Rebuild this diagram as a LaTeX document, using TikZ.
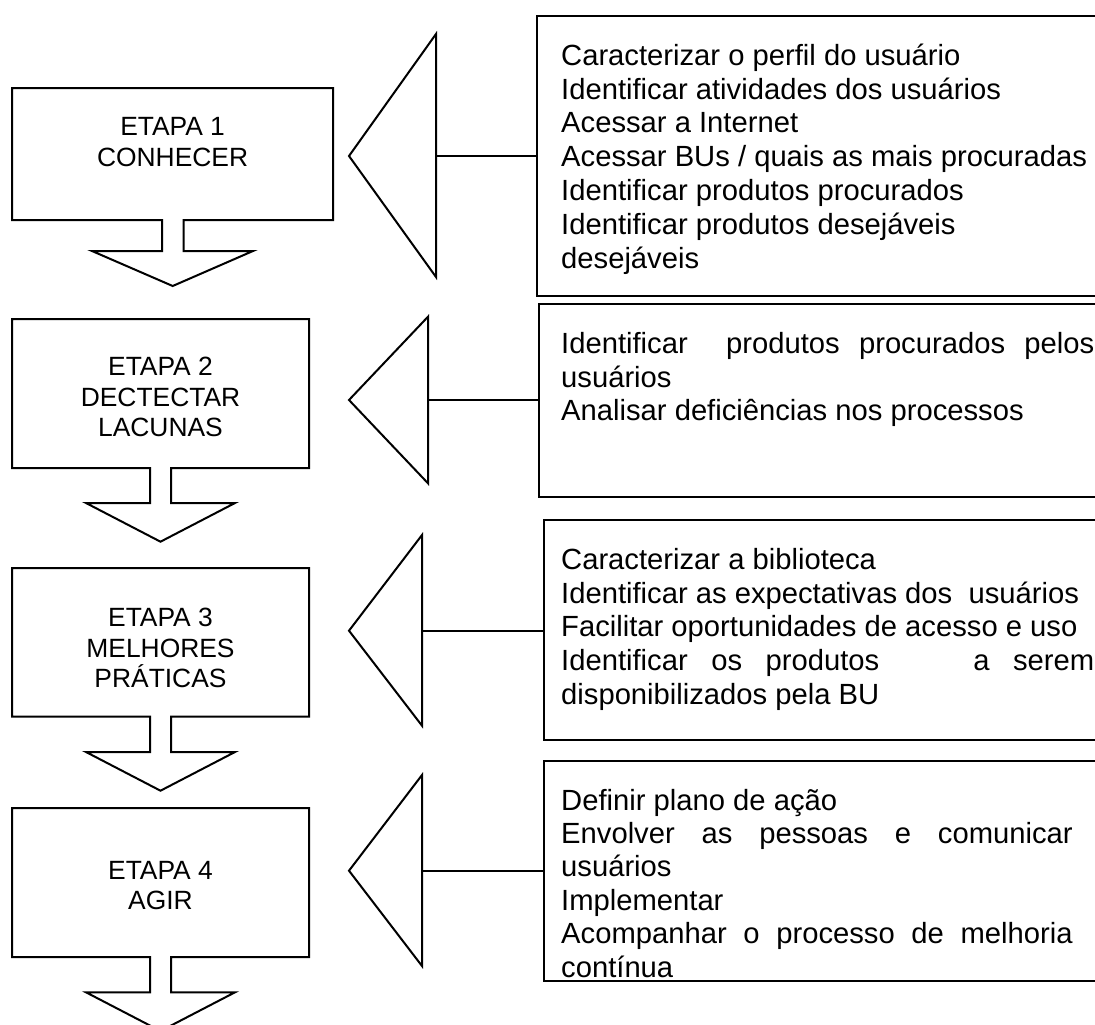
\documentclass[tikz,border=0pt]{standalone}
\usepackage{fontspec}
\setmainfont{Liberation Sans}
\newcommand\ctrln[1]{\hbox to 0pt{\hss#1\hss}}
\newcommand\jline[2]{\hbox to #1{\spaceskip=0.278em plus 1fil\relax #2}}
\begin{document}
\begin{tikzpicture}[x=1pt,y=-1pt,line join=miter,
  lefttxt/.style={inner sep=0pt,anchor=base,font=\fontsize{26.4}{30.5}\selectfont},
  righttxt/.style={inner sep=0pt,anchor=base west,font=\fontsize{29.2}{33.8}\selectfont},
  outline/.style={draw=black,line width=2pt},
  wedge/.style={draw=black,line width=2pt},
  frame/.style={draw=black,line width=2pt},
  link/.style={draw=black,line width=2pt}]
\useasboundingbox (0,0) rectangle (1095,1025);
\clip (0,0) rectangle (1095,1025);

% ---- left column: stage boxes with block arrows
\draw[outline] (12,88) -- (333,88) -- (333,220) -- (183.5,220) -- (183.5,251) -- (253,251)
  -- (172.7,286) -- (92,251) -- (162,251) -- (162,220) -- (12,220) -- cycle;
\draw[outline] (12,319) -- (309,319) -- (309,468) -- (171,468) -- (171,503) -- (235,503)
  -- (160.5,541.7) -- (86,503) -- (150,503) -- (150,468) -- (12,468) -- cycle;
\draw[outline] (12,568) -- (309,568) -- (309,716.7) -- (171,716.7) -- (171,752) -- (235,752)
  -- (160.5,790.7) -- (86,752) -- (150,752) -- (150,716.7) -- (12,716.7) -- cycle;
\draw[outline] (12,808) -- (309,808) -- (309,957) -- (171,957) -- (171,992.3) -- (235,992.3)
  -- (160.5,1031) -- (86,992.3) -- (150,992.3) -- (150,957) -- (12,957) -- cycle;

\node[lefttxt] (e1) at (172.6,135.5) {\vtop{\ctrln{ETAPA 1}\ctrln{CONHECER}}};
\node[lefttxt] (e2) at (160.5,375.7) {\vtop{\ctrln{ETAPA 2}\ctrln{DECTECTAR}\ctrln{LACUNAS}}};
\node[lefttxt] (e3) at (160.5,626.7) {\vtop{\ctrln{ETAPA 3}\ctrln{MELHORES}\ctrln{PRÁTICAS}}};
\node[lefttxt] (e4) at (160.5,879) {\vtop{\ctrln{ETAPA 4}\ctrln{AGIR}}};

% ---- triangles
\draw[wedge] (349,156) -- (436,34) -- (436,277) -- cycle;
\draw[wedge] (349,400) -- (428,316.7) -- (428,483.3) -- cycle;
\draw[wedge] (349,630.7) -- (422,535) -- (422,725.7) -- cycle;
\draw[wedge] (349,870.7) -- (422,775) -- (422,966) -- cycle;

% ---- right description boxes
\draw[frame] (1110,15.7) -- (537,15.7) -- (537,296) -- (1110,296);
\draw[frame] (1110,304) -- (539,304) -- (539,496.5) -- (1110,496.5);
\draw[frame] (1110,520) -- (544,520) -- (544,740) -- (1110,740);
\draw[frame] (1110,760.7) -- (544,760.7) -- (544,981) -- (1110,981);

% ---- connectors
\coordinate (b1) at (436,156);   \coordinate (r1) at (537,156);
\coordinate (b2) at (428,400);   \coordinate (r2) at (539,400);
\coordinate (b3) at (422,630.7); \coordinate (r3) at (544,630.7);
\coordinate (b4) at (422,870.7); \coordinate (r4) at (544,870.7);
\draw[link] (b1) -- (r1);
\draw[link] (b2) -- (r2);
\draw[link] (b3) -- (r3);
\draw[link] (b4) -- (r4);

% ---- texts
\node[righttxt] (d1) at (561,65.3) {\vtop{%
  \hbox{Caracterizar o perfil do usuário}%
  \hbox{Identificar atividades dos usuários}%
  \hbox{Acessar a Internet}%
  \hbox{Acessar BUs / quais as mais procuradas}%
  \hbox{Identificar produtos procurados}%
  \hbox{Identificar produtos desejáveis}%
  \hbox{desejáveis}}};
\node[righttxt] (d2) at (561,353.3) {\vtop{%
  \jline{533pt}{Identificar\ \ produtos procurados pelos}%
  \hbox{usuários}%
  \hbox{Analisar deficiências nos processos}}};
\node[righttxt] (d3) at (561,569.3) {\vtop{%
  \hbox{Caracterizar a biblioteca}%
  \hbox{Identificar as expectativas dos\ \ usuários}%
  \hbox{Facilitar oportunidades de acesso e uso}%
  \jline{533pt}{Identificar os produtos\ \ \ \ a serem}%
  \hbox{disponibilizados pela BU}}};
\node[righttxt,font=\fontsize{29.2}{33.4}\selectfont] (d4) at (561,810) {\vtop{%
  \hbox{Definir plano de ação}%
  \jline{511.5pt}{Envolver as pessoas e comunicar}%
  \hbox{usuários}%
  \hbox{Implementar}%
  \jline{511.5pt}{Acompanhar o processo de melhoria}%
  \hbox{contínua}}};
\end{tikzpicture}
\end{document}
